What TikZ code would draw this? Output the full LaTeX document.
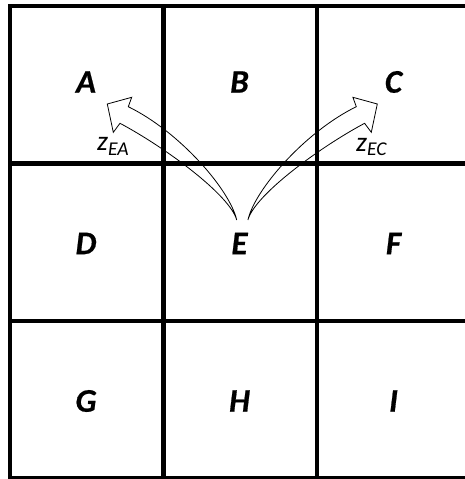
\documentclass[tikz,border=0pt]{standalone}
\usepackage{fontspec}
\setmainfont{Carlito}[BoldItalicFeatures={FakeBold=0.6}]
\begin{document}
\begin{tikzpicture}[x=1pt,y=-1pt,
  gridline/.style={line width=4.4pt},
  cell/.style={font=\fontsize{33}{33}\selectfont\bfseries\itshape, inner sep=0pt},
  lab/.style={inner sep=0pt, anchor=base west},
  band/.style={line width=0.8pt, line join=miter}]
\useasboundingbox (0,0) rectangle (464,479);
% grid
\foreach \x in {10,163.5,317,470.5} \draw[gridline] (\x,4) -- (\x,480.5);
\foreach \y in {6,163.5,321,478.5} \draw[gridline] (8,\y) -- (472.5,\y);
% letters
\node[cell] (A) at (86,82) {A};
\node[cell] (B) at (239.5,82) {B};
\node[cell] (C) at (393.5,82) {C};
\node[cell] (D) at (86,243.5) {D};
\node[cell] (E) at (239.5,243.5) {E};
\node[cell] (F) at (393.5,243.5) {F};
\node[cell] (G) at (86,401) {G};
\node[cell] (H) at (239.5,401) {H};
\node[cell] (I) at (393.5,401) {I};
% arrows
\coordinate (bl) at (236.7,220);
\coordinate (br) at (247.9,220);
\draw[band] (bl) .. controls (230,195) and (165,147.3) .. (120,123.3)
  -- (113.3,132.3) -- (107.3,104) -- (131.7,97.3) -- (128.3,106.7)
  .. controls (180,132) and (230,190) .. (bl) -- cycle;
\draw[band] (br) .. controls (254.6,195) and (319.6,147.3) .. (364.6,123.3)
  -- (371.3,132.3) -- (377.3,104) -- (352.9,97.3) -- (356.3,106.7)
  .. controls (304.6,132) and (254.6,190) .. (br) -- cycle;
% labels
\node[lab] (zea) at (97,150.5) {\fontsize{27.5}{27.5}\selectfont\itshape z\raisebox{-4.5pt}{\fontsize{19.5}{19.5}\selectfont EA}};
\node[lab] (zec) at (356,151) {\fontsize{27.5}{27.5}\selectfont\itshape z\raisebox{-4.5pt}{\fontsize{19.5}{19.5}\selectfont EC}};
\end{tikzpicture}
\end{document}
